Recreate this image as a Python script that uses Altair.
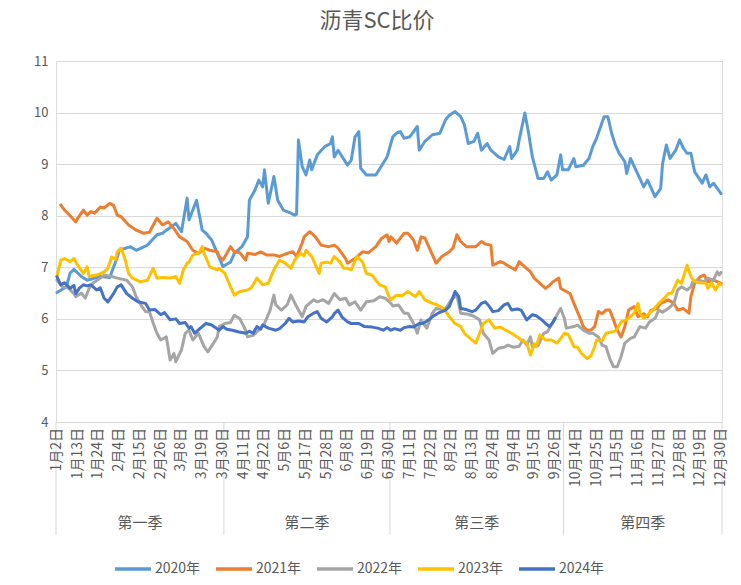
import altair as alt
import pandas as pd

FONT = "Noto Sans CJK SC"

series_names = ["2020年", "2021年", "2022年", "2023年", "2024年"]
colors = ["#5B9BD5", "#ED7D31", "#A5A5A5", "#FFC000", "#4472C4"]

date_labels = ["1月2日", "1月13日", "1月24日", "2月4日", "2月15日", "2月26日", "3月8日", "3月19日",
               "3月30日", "4月11日", "4月22日", "5月6日", "5月17日", "5月28日", "6月8日", "6月19日",
               "6月30日", "7月11日", "7月22日", "8月2日", "8月13日", "8月24日", "9月4日", "9月15日",
               "9月26日", "10月14日", "10月25日", "11月5日", "11月16日", "11月27日", "12月8日",
               "12月19日", "12月30日"]
date_label_idx = list(range(0, 353, 11))
quarters = ["第一季", "第二季", "第三季", "第四季"]
quarter_start = [0, 89, 177, 269]
quarter_end = [88, 176, 268, 352]

# category index (trading-day position) and ratio values
x2020 = [0, 5, 7, 9, 13, 16, 23, 28, 32, 33, 39, 42, 48, 53, 56, 58, 63, 66, 69, 70, 74, 77, 79, 82, 85, 88,
         89, 92, 94, 98, 101, 102, 105, 107, 109, 110, 112, 115, 117, 120, 124, 126, 127, 128, 130, 132, 134,
         135, 138, 142, 145, 146, 147, 149, 154, 156, 158, 160, 161, 164, 169, 175, 177, 178, 180, 182, 184,
         187, 191, 192, 195, 199, 203, 206, 208, 211, 214, 216, 218, 221, 223, 225, 228, 230, 234, 237, 240,
         241, 244, 245, 248, 250, 252, 255, 258, 260, 262, 265, 267, 268, 271, 274, 275, 279, 282, 284, 286,
         290, 292, 294, 296, 298, 301, 302, 304, 306, 309, 311, 313, 317, 320, 321, 323, 325, 328, 330, 332,
         334, 336, 338, 341, 342, 344, 346, 348, 352]
v2020 = [6.51, 6.62, 6.89, 6.96, 6.82, 6.75, 6.82, 6.8, 7.2, 7.33, 7.4, 7.33, 7.43, 7.63, 7.66, 7.72, 7.85,
         7.69, 8.34, 7.92, 8.30, 7.72, 7.66, 7.53, 7.27, 7.01,
         7.04, 7.1, 7.27, 7.4, 7.59, 8.30, 8.50, 8.69, 8.56, 8.89, 8.24, 8.76, 8.30, 8.11, 8.05, 8.01, 8.03,
         9.47, 8.95, 8.79, 9.08, 8.89, 9.18, 9.34, 9.40, 9.53, 9.14, 9.27, 8.98, 9.08, 9.53, 9.63, 8.92, 8.79,
         8.79, 9.14, 9.40, 9.53, 9.60, 9.63, 9.50, 9.53, 9.73, 9.27, 9.44, 9.57, 9.60, 9.86, 9.95, 10.02, 9.92,
         9.76, 9.40, 9.44, 9.60, 9.27, 9.40, 9.27, 9.14, 9.09, 9.34, 9.11, 9.27, 9.47, 9.99, 9.60, 9.14, 8.72,
         8.72, 8.85, 8.69, 8.79, 9.18, 8.89, 8.89, 9.11, 8.95, 8.98, 9.11, 9.34, 9.50, 9.92, 9.92, 9.60, 9.37,
         9.21, 9.05, 8.82, 9.11, 8.95, 8.72, 8.56, 8.69, 8.37, 8.53, 9.01, 9.37, 9.11, 9.27, 9.47, 9.31, 9.21,
         9.21, 8.85, 8.69, 8.63, 8.79, 8.56, 8.63, 8.43]

x2021 = [2, 4, 7, 10, 11, 14, 16, 18, 20, 23, 25, 28, 30, 32, 34, 38, 42, 46, 49, 53, 56, 59, 62, 65, 69,
         72, 75, 78, 81, 85, 86, 88, 92, 94, 97, 100, 101, 105, 108, 111, 115, 118, 122, 125, 127, 130, 131,
         134, 137, 140, 144, 147, 149, 153, 154, 158, 162, 165, 169, 172, 175, 176, 177, 180, 184, 186, 189,
         191, 193, 195, 199, 201, 204, 208, 210, 212, 214, 217, 220, 222, 225, 227, 230, 231, 235, 237, 240,
         243, 245, 248, 251, 253, 256, 259, 261, 263, 266, 267, 269, 272, 274, 277, 279, 281, 283, 285, 287,
         289, 291, 293, 295, 297, 299, 301, 303, 306, 308, 311, 313, 315, 318, 320, 324, 327, 329, 332, 335,
         336, 338, 341, 343, 345, 348, 350, 352]
v2021 = [8.21, 8.11, 8.0, 7.88, 7.95, 8.11, 8.01, 8.08, 8.05, 8.17, 8.15, 8.24, 8.2, 8.01, 7.98, 7.82, 7.72,
         7.66, 7.68, 7.95, 7.82, 7.88, 7.75, 7.59, 7.50, 7.33, 7.27, 7.37, 7.33, 7.30, 7.21, 7.14, 7.40, 7.30,
         7.28, 7.14, 7.27, 7.25, 7.30, 7.24, 7.24, 7.21, 7.27, 7.30, 7.21, 7.47, 7.59, 7.69, 7.59, 7.43, 7.40,
         7.43, 7.37, 7.17, 7.08, 7.17, 7.30, 7.28, 7.40, 7.56, 7.63, 7.50, 7.59, 7.47, 7.66, 7.66, 7.53, 7.33,
         7.59, 7.57, 7.24, 7.08, 7.21, 7.30, 7.38, 7.63, 7.50, 7.40, 7.40, 7.40, 7.50, 7.45, 7.43, 7.04, 7.11,
         7.08, 7.01, 6.95, 7.11, 7.01, 6.91, 6.79, 6.69, 6.59, 6.65, 6.72, 6.79, 6.59, 6.55, 6.49, 6.30, 6.04,
         5.85, 5.78, 5.78, 5.85, 6.14, 6.1, 6.17, 6.17, 5.98, 5.78, 5.65, 5.85, 6.17, 6.24, 6.04, 6.1, 6.04,
         6.17, 6.2, 6.30, 6.37, 6.30, 6.17, 6.20, 6.11, 6.43, 6.69, 6.82, 6.85, 6.72, 6.75, 6.72, 6.69]

x2022 = [0, 3, 6, 9, 10, 13, 15, 17, 19, 23, 25, 29, 32, 37, 40, 42, 45, 47, 49, 51, 53, 55, 58, 60, 62, 63,
         66, 68, 70, 72, 75, 78, 80, 83, 85, 86, 89, 92, 94, 97, 100, 101, 104, 107, 110, 113, 115, 116, 119,
         122, 124, 127, 130, 132, 136, 138, 141, 144, 147, 150, 153, 155, 158, 161, 164, 168, 171, 174, 177,
         178, 181, 184, 186, 189, 191, 193, 196, 199, 201, 204, 206, 209, 212, 214, 218, 221, 224, 226, 229,
         231, 234, 237, 239, 242, 245, 247, 249, 251, 252, 255, 258, 260, 263, 266, 267, 269, 270, 274, 276,
         279, 282, 284, 287, 289, 291, 293, 295, 297, 299, 301, 304, 306, 309, 312, 314, 317, 319, 321, 324,
         327, 329, 331, 334, 336, 337, 340, 343, 345, 348, 350, 351, 352]
v2022 = [6.75, 6.62, 6.6, 6.49, 6.43, 6.5, 6.40, 6.59, 6.69, 6.79, 6.85, 6.82, 6.79, 6.75, 6.62, 6.43, 6.24,
         6.14, 6.14, 5.92, 5.72, 5.59, 5.65, 5.20, 5.33, 5.17, 5.4, 5.72, 5.78, 5.59, 5.72, 5.46, 5.36, 5.53,
         5.65, 5.85, 5.91, 5.93, 6.07, 6.0, 5.78, 5.65, 5.68, 5.78, 5.91, 6.17, 6.46, 6.27, 6.17, 6.27, 6.46,
         6.24, 6.04, 6.24, 6.37, 6.33, 6.37, 6.3, 6.49, 6.37, 6.4, 6.27, 6.33, 6.17, 6.33, 6.35, 6.43, 6.40,
         6.30, 6.25, 6.27, 6.11, 6.11, 5.91, 5.72, 5.98, 5.82, 6.11, 6.20, 6.18, 6.20, 6.37, 6.46, 6.11, 6.09,
         6.05, 5.98, 5.72, 5.59, 5.33, 5.43, 5.45, 5.49, 5.45, 5.47, 5.59, 5.49, 5.65, 5.46, 5.48, 5.72, 5.75,
         5.94, 6.14, 6.20, 6.0, 5.82, 5.85, 5.88, 5.78, 5.72, 5.72, 5.65, 5.49, 5.46, 5.23, 5.07, 5.07, 5.27,
         5.53, 5.62, 5.65, 5.85, 5.82, 5.94, 6.01, 6.17, 6.13, 6.20, 6.30, 6.56, 6.62, 6.56, 6.62, 6.72, 6.75,
         6.72, 6.79, 6.75, 6.91, 6.85, 6.9]

x2023 = [0, 2, 4, 7, 9, 11, 14, 16, 17, 21, 25, 27, 29, 31, 32, 34, 36, 38, 40, 44, 48, 51, 53, 56, 60, 63,
         65, 67, 69, 70, 72, 75, 77, 78, 81, 85, 86, 89, 92, 94, 97, 101, 103, 106, 109, 112, 115, 118, 121,
         124, 126, 129, 131, 132, 135, 139, 140, 143, 145, 147, 150, 152, 154, 156, 159, 162, 164, 167, 169,
         171, 174, 176, 177, 180, 183, 186, 190, 192, 195, 199, 201, 205, 208, 211, 214, 216, 220, 222, 224,
         226, 229, 232, 235, 238, 241, 244, 246, 249, 251, 253, 254, 256, 259, 262, 265, 267, 269, 271, 274,
         276, 278, 281, 283, 285, 286, 289, 291, 293, 295, 297, 299, 301, 303, 306, 308, 309, 311, 314, 316,
         319, 322, 324, 326, 329, 331, 334, 336, 338, 341, 344, 345, 347, 349, 351, 352]
v2023 = [6.82, 7.14, 7.17, 7.11, 7.17, 7.04, 6.88, 7.01, 6.82, 6.85, 6.91, 6.98, 7.20, 7.15, 7.30, 7.37,
         7.17, 6.88, 6.79, 6.72, 6.75, 6.98, 6.79, 6.8, 6.79, 6.82, 6.69, 6.95, 7.08, 7.1, 7.24, 7.27, 7.40,
         7.27, 7.01, 6.95, 6.98, 6.88, 6.62, 6.46, 6.53, 6.56, 6.6, 6.79, 6.66, 6.69, 6.95, 7.14, 7.08, 6.98,
         7.14, 7.27, 7.22, 7.33, 7.21, 6.88, 7.08, 7.1, 7.08, 7.21, 7.1, 6.98, 6.98, 6.95, 7.21, 7.1, 6.88,
         6.85, 6.75, 6.66, 6.62, 6.43, 6.37, 6.46, 6.45, 6.53, 6.43, 6.53, 6.37, 6.30, 6.28, 6.20, 6.04, 5.91,
         5.85, 5.72, 5.59, 5.53, 5.72, 5.91, 5.98, 5.82, 5.84, 5.78, 5.72, 5.65, 5.59, 5.53, 5.30, 5.52, 5.46,
         5.69, 5.59, 5.59, 5.53, 5.62, 5.72, 5.7, 5.46, 5.45, 5.33, 5.23, 5.28, 5.46, 5.59, 5.58, 5.72, 5.74,
         5.75, 5.8, 5.94, 5.97, 6.01, 6.11, 6.30, 6.11, 6.01, 6.11, 6.17, 6.30, 6.40, 6.49, 6.5, 6.75, 6.69,
         7.04, 6.82, 6.72, 6.7, 6.69, 6.59, 6.7, 6.56, 6.69, 6.66]

x2024 = [0, 2, 4, 7, 9, 10, 12, 14, 16, 18, 21, 23, 25, 27, 30, 32, 34, 37, 40, 43, 47, 49, 52, 55, 57, 60,
         63, 65, 68, 70, 71, 73, 76, 79, 82, 86, 88, 90, 93, 96, 100, 102, 104, 106, 108, 109, 112, 116, 118,
         121, 123, 125, 128, 131, 133, 136, 138, 140, 143, 146, 147, 149, 151, 154, 156, 160, 163, 167, 170,
         173, 175, 177, 179, 182, 184, 187, 189, 192, 194, 197, 199, 202, 206, 208, 210, 211, 213, 214, 217,
         220, 222, 225, 227, 229, 231, 234, 237, 239, 241, 244, 246, 249, 252, 254, 257, 259, 261, 263, 264]
v2024 = [6.82, 6.66, 6.7, 6.59, 6.65, 6.49, 6.6, 6.66, 6.64, 6.66, 6.56, 6.6, 6.40, 6.33, 6.49, 6.62, 6.66,
         6.49, 6.40, 6.33, 6.30, 6.17, 6.18, 6.08, 6.12, 5.98, 6.0, 5.91, 5.93, 5.82, 5.85, 5.72, 5.82, 5.91,
         5.88, 5.78, 5.85, 5.8, 5.78, 5.75, 5.72, 5.76, 5.72, 5.85, 5.8, 5.88, 5.82, 5.78, 5.81, 5.91, 6.01,
         5.94, 5.96, 5.94, 6.04, 6.11, 6.14, 6.01, 5.94, 6.04, 6.1, 6.17, 6.04, 5.94, 5.91, 5.91, 5.85, 5.84,
         5.82, 5.78, 5.83, 5.78, 5.81, 5.78, 5.83, 5.85, 5.84, 5.91, 5.91, 5.98, 6.04, 6.11, 6.17, 6.24, 6.43,
         6.53, 6.43, 6.20, 6.18, 6.14, 6.17, 6.30, 6.33, 6.25, 6.14, 6.16, 6.27, 6.30, 6.17, 6.19, 6.17, 5.98,
         6.08, 6.06, 5.98, 5.91, 5.85, 5.94, 6.01]

xs = [x2020, x2021, x2022, x2023, x2024]
vs = [v2020, v2021, v2022, v2023, v2024]
rows = []
for name, xx, vv in zip(series_names, xs, vs):
    for i, v in zip(xx, vv):
        rows.append({"idx": i, "value": v, "series": name})
df = pd.DataFrame(rows)

W, H = 666, 361
xscale = alt.Scale(domain=[-0.5, 352.5], nice=False, zero=False)

lines = alt.Chart(df).mark_line(strokeWidth=3, strokeJoin="round", strokeCap="round").encode(
    x=alt.X("idx:Q", scale=xscale,
            axis=alt.Axis(values=date_label_idx, labels=False, grid=False, ticks=False,
                          domainColor="#d9d9d9", title=None)),
    y=alt.Y("value:Q", scale=alt.Scale(domain=[4, 11], nice=False, zero=False),
            axis=alt.Axis(values=[4, 5, 6, 7, 8, 9, 10, 11], grid=True, gridColor="#d9d9d9",
                          domain=False, ticks=False, labelColor="#595959", labelFontSize=13,
                          labelFont=FONT, labelPadding=8, title=None)),
    color=alt.Color("series:N", scale=alt.Scale(domain=series_names, range=colors),
                    legend=alt.Legend(title=None, orient="none", direction="horizontal",
                                      legendX=57, legendY=488, symbolType="stroke",
                                      symbolSize=1300, symbolStrokeWidth=3.5, labelFontSize=14,
                                      labelColor="#595959", labelFont=FONT, columnPadding=7,
                                      labelOffset=2)),
    order=alt.Order("idx:Q"),
)

dl_df = pd.DataFrame({"idx": date_label_idx, "lab": date_labels})
dlabels = alt.Chart(dl_df).mark_text(angle=270, align="right", baseline="middle", fontSize=14,
                                     color="#595959", font=FONT).encode(
    x=alt.X("idx:Q", scale=xscale), y=alt.value(H + 6), text="lab:N")

sep_df = pd.DataFrame({"idx": [-0.5, 88.5, 176.5, 268.5, 352.5]})
seps = alt.Chart(sep_df).mark_rule(color="#d9d9d9", strokeWidth=1).encode(
    x=alt.X("idx:Q", scale=xscale), y=alt.value(H), y2=alt.value(H + 113))

q_df = pd.DataFrame({"q": quarters,
                     "idx": [(a + b) / 2 for a, b in zip(quarter_start, quarter_end)]})
qtext = alt.Chart(q_df).mark_text(fontSize=15, color="#595959", font=FONT, baseline="middle").encode(
    x=alt.X("idx:Q", scale=xscale), y=alt.value(H + 101), text="q:N")

title_df = pd.DataFrame({"t": ["沥青SC比价"]})
title = alt.Chart(title_df).mark_text(fontSize=22, color="#595959", font=FONT, baseline="middle",
                                      align="center").encode(
    x=alt.value(321), y=alt.value(-40), text="t:N")

chart = alt.layer(seps, lines, dlabels, qtext, title).properties(
    width=W, height=H,
    autosize=alt.AutoSizeParams(type="none"),
    padding={"left": 48, "top": 53, "right": 11, "bottom": 155},
).configure_view(stroke=None).configure(background="white")

chart.save("out.html", embed_options={"renderer": "svg", "actions": False})
